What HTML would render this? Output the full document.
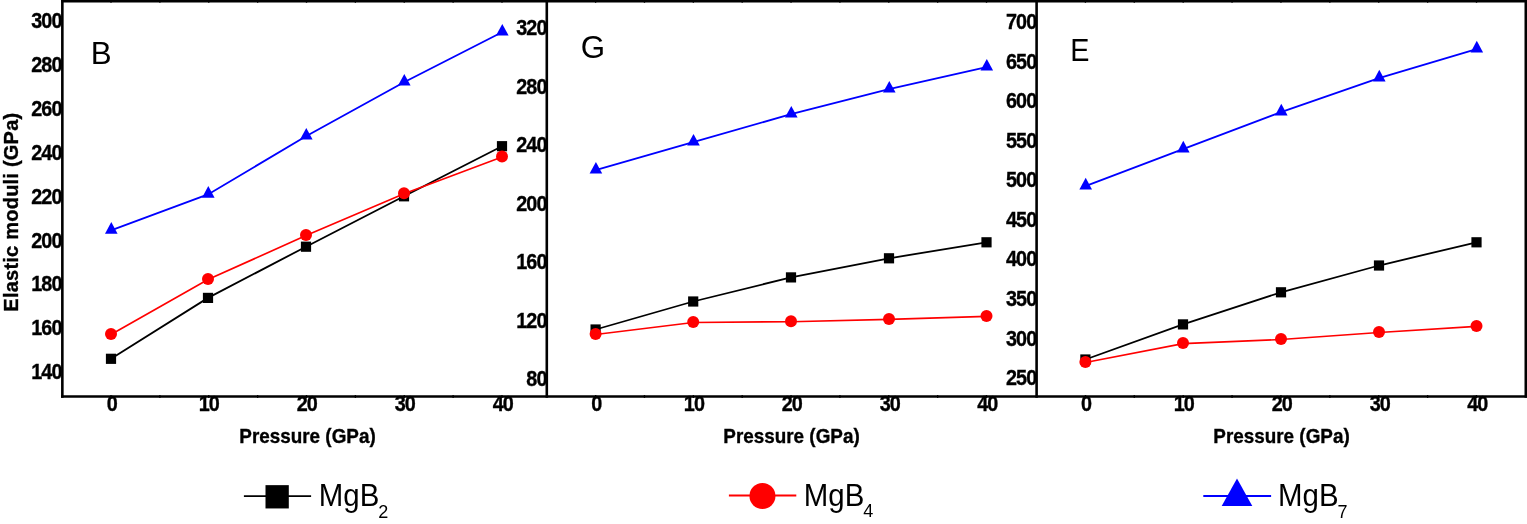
<!DOCTYPE html>
<html><head><meta charset="utf-8"><title>Elastic moduli vs pressure</title>
<style>html,body{margin:0;padding:0;background:#fff;}svg{display:block;}</style>
</head><body>
<svg width="1527" height="524" viewBox="0 0 1527 524" font-family='"Liberation Sans", Arial, Helvetica, sans-serif'>
<rect width="1527" height="524" fill="#fff"/>
<g stroke="#000" fill="none" stroke-linecap="square">
<line x1="62.35" y1="1.2" x2="1525.8" y2="1.2" stroke-width="2.4"/>
<line x1="62.35" y1="396.5" x2="1525.8" y2="396.5" stroke-width="2.7"/>
<line x1="62.35" y1="1.2" x2="62.35" y2="396.5" stroke-width="2.6"/>
<line x1="546.8" y1="1.2" x2="546.8" y2="396.5" stroke-width="2.6"/>
<line x1="1036.6" y1="1.2" x2="1036.6" y2="396.5" stroke-width="2.6"/>
<line x1="1525.8" y1="1.2" x2="1525.8" y2="396.5" stroke-width="2.6"/>
</g>
<path d="M111.00,394.90V398.10M111.00,1.20V2.70M159.88,394.90V398.10M159.88,1.20V2.70M208.75,394.90V398.10M208.75,1.20V2.70M257.62,394.90V398.10M257.62,1.20V2.70M306.50,394.90V398.10M306.50,1.20V2.70M355.38,394.90V398.10M355.38,1.20V2.70M404.25,394.90V398.10M404.25,1.20V2.70M453.12,394.90V398.10M453.12,1.20V2.70M502.00,394.90V398.10M502.00,1.20V2.70" stroke="#000" stroke-width="1.3" fill="none"/>
<polyline points="111,358.8 208,297.9 306,246.7 404,196.3 502,146.2" fill="none" stroke="#000" stroke-width="1.8"/>
<rect x="105.90" y="353.70" width="10.2" height="10.2" fill="#000"/>
<rect x="202.90" y="292.80" width="10.2" height="10.2" fill="#000"/>
<rect x="300.90" y="241.60" width="10.2" height="10.2" fill="#000"/>
<rect x="398.90" y="191.20" width="10.2" height="10.2" fill="#000"/>
<rect x="496.90" y="141.10" width="10.2" height="10.2" fill="#000"/>
<polyline points="111,334.5 208,279.5 306,235.6 404,193.8 502,157" fill="none" stroke="#f00" stroke-width="1.65"/>
<circle cx="111" cy="334.00" r="6.0" fill="#f00"/>
<circle cx="208" cy="279.00" r="6.0" fill="#f00"/>
<circle cx="306" cy="235.10" r="6.0" fill="#f00"/>
<circle cx="404" cy="193.30" r="6.0" fill="#f00"/>
<circle cx="502" cy="156.50" r="6.0" fill="#f00"/>
<polyline points="111,230.4 208,194.4 306,136.3 404,82.3 502,32.3" fill="none" stroke="#00f" stroke-width="1.8"/>
<polygon points="111.30,222.10 117.60,233.70 105.00,233.70" fill="#00f"/>
<polygon points="208.30,186.10 214.60,197.70 202.00,197.70" fill="#00f"/>
<polygon points="306.30,128.00 312.60,139.60 300.00,139.60" fill="#00f"/>
<polygon points="404.30,74.00 410.60,85.60 398.00,85.60" fill="#00f"/>
<polygon points="502.30,24.00 508.60,35.60 496.00,35.60" fill="#00f"/>
<g font-size="21.3" font-weight="bold" fill="#000" stroke="#000" stroke-width="0.35">
<text transform="translate(61.70,28.00) scale(0.93,1)" letter-spacing="-0.9" text-anchor="end">300</text>
<text transform="translate(61.70,72.00) scale(0.93,1)" letter-spacing="-0.9" text-anchor="end">280</text>
<text transform="translate(61.70,116.00) scale(0.93,1)" letter-spacing="-0.9" text-anchor="end">260</text>
<text transform="translate(61.70,160.00) scale(0.93,1)" letter-spacing="-0.9" text-anchor="end">240</text>
<text transform="translate(61.70,204.00) scale(0.93,1)" letter-spacing="-0.9" text-anchor="end">220</text>
<text transform="translate(61.70,248.00) scale(0.93,1)" letter-spacing="-0.9" text-anchor="end">200</text>
<text transform="translate(61.70,291.00) scale(0.93,1)" letter-spacing="-0.9" text-anchor="end">180</text>
<text transform="translate(61.70,335.00) scale(0.93,1)" letter-spacing="-0.9" text-anchor="end">160</text>
<text transform="translate(61.70,379.00) scale(0.93,1)" letter-spacing="-0.9" text-anchor="end">140</text>
<text transform="translate(111.80,411.0) scale(0.93,1)" letter-spacing="-0.9" text-anchor="middle">0</text>
<text transform="translate(208.80,411.0) scale(0.93,1)" letter-spacing="-0.9" text-anchor="middle">10</text>
<text transform="translate(306.80,411.0) scale(0.93,1)" letter-spacing="-0.9" text-anchor="middle">20</text>
<text transform="translate(404.80,411.0) scale(0.93,1)" letter-spacing="-0.9" text-anchor="middle">30</text>
<text transform="translate(502.80,411.0) scale(0.93,1)" letter-spacing="-0.9" text-anchor="middle">40</text>
<text transform="translate(307.5,443.1) scale(0.944,1)" text-anchor="middle" font-size="20">Pressure (GPa)</text>
</g>
<text transform="translate(90.80,63.90) scale(1,1)" font-size="31.3" fill="#000">B</text>
<path d="M595.60,394.90V398.10M595.60,1.20V2.70M644.46,394.90V398.10M644.46,1.20V2.70M693.33,394.90V398.10M693.33,1.20V2.70M742.19,394.90V398.10M742.19,1.20V2.70M791.05,394.90V398.10M791.05,1.20V2.70M839.91,394.90V398.10M839.91,1.20V2.70M888.77,394.90V398.10M888.77,1.20V2.70M937.64,394.90V398.10M937.64,1.20V2.70M986.50,394.90V398.10M986.50,1.20V2.70" stroke="#000" stroke-width="1.3" fill="none"/>
<polyline points="595.6,329.5 693.2,301.5 791,277.4 889,258.3 986.5,242.3" fill="none" stroke="#000" stroke-width="1.8"/>
<rect x="590.50" y="324.40" width="10.2" height="10.2" fill="#000"/>
<rect x="688.10" y="296.40" width="10.2" height="10.2" fill="#000"/>
<rect x="785.90" y="272.30" width="10.2" height="10.2" fill="#000"/>
<rect x="883.90" y="253.20" width="10.2" height="10.2" fill="#000"/>
<rect x="981.40" y="237.20" width="10.2" height="10.2" fill="#000"/>
<polyline points="595.6,334.5 693.2,322.5 791,321.7 889,319.4 986.5,316.4" fill="none" stroke="#f00" stroke-width="1.65"/>
<circle cx="595.6" cy="334.00" r="6.0" fill="#f00"/>
<circle cx="693.2" cy="322.00" r="6.0" fill="#f00"/>
<circle cx="791" cy="321.20" r="6.0" fill="#f00"/>
<circle cx="889" cy="318.90" r="6.0" fill="#f00"/>
<circle cx="986.5" cy="315.90" r="6.0" fill="#f00"/>
<polyline points="595.6,170.2 693.2,142.2 791,114.2 889,89.2 986.5,67.2" fill="none" stroke="#00f" stroke-width="1.8"/>
<polygon points="595.90,161.90 602.20,173.50 589.60,173.50" fill="#00f"/>
<polygon points="693.50,133.90 699.80,145.50 687.20,145.50" fill="#00f"/>
<polygon points="791.30,105.90 797.60,117.50 785.00,117.50" fill="#00f"/>
<polygon points="889.30,80.90 895.60,92.50 883.00,92.50" fill="#00f"/>
<polygon points="986.80,58.90 993.10,70.50 980.50,70.50" fill="#00f"/>
<g font-size="21.3" font-weight="bold" fill="#000" stroke="#000" stroke-width="0.35">
<text transform="translate(546.70,35.00) scale(0.93,1)" letter-spacing="-0.9" text-anchor="end">320</text>
<text transform="translate(546.70,94.00) scale(0.93,1)" letter-spacing="-0.9" text-anchor="end">280</text>
<text transform="translate(546.70,152.00) scale(0.93,1)" letter-spacing="-0.9" text-anchor="end">240</text>
<text transform="translate(546.70,211.00) scale(0.93,1)" letter-spacing="-0.9" text-anchor="end">200</text>
<text transform="translate(546.70,269.00) scale(0.93,1)" letter-spacing="-0.9" text-anchor="end">160</text>
<text transform="translate(546.70,328.00) scale(0.93,1)" letter-spacing="-0.9" text-anchor="end">120</text>
<text transform="translate(546.70,386.00) scale(0.93,1)" letter-spacing="-0.9" text-anchor="end">80</text>
<text transform="translate(596.40,411.0) scale(0.93,1)" letter-spacing="-0.9" text-anchor="middle">0</text>
<text transform="translate(694.00,411.0) scale(0.93,1)" letter-spacing="-0.9" text-anchor="middle">10</text>
<text transform="translate(791.80,411.0) scale(0.93,1)" letter-spacing="-0.9" text-anchor="middle">20</text>
<text transform="translate(889.80,411.0) scale(0.93,1)" letter-spacing="-0.9" text-anchor="middle">30</text>
<text transform="translate(987.30,411.0) scale(0.93,1)" letter-spacing="-0.9" text-anchor="middle">40</text>
<text transform="translate(791.5,443.1) scale(0.944,1)" text-anchor="middle" font-size="20">Pressure (GPa)</text>
</g>
<text transform="translate(580.80,58.20) scale(1,1)" font-size="31.3" fill="#000">G</text>
<path d="M1085.40,394.90V398.10M1085.40,1.20V2.70M1134.29,394.90V398.10M1134.29,1.20V2.70M1183.18,394.90V398.10M1183.18,1.20V2.70M1232.06,394.90V398.10M1232.06,1.20V2.70M1280.95,394.90V398.10M1280.95,1.20V2.70M1329.84,394.90V398.10M1329.84,1.20V2.70M1378.72,394.90V398.10M1378.72,1.20V2.70M1427.61,394.90V398.10M1427.61,1.20V2.70M1476.50,394.90V398.10M1476.50,1.20V2.70" stroke="#000" stroke-width="1.3" fill="none"/>
<polyline points="1085.4,359.5 1183,324.4 1281,292.3 1379,265.5 1476.5,242.3" fill="none" stroke="#000" stroke-width="1.8"/>
<rect x="1080.30" y="354.40" width="10.2" height="10.2" fill="#000"/>
<rect x="1177.90" y="319.30" width="10.2" height="10.2" fill="#000"/>
<rect x="1275.90" y="287.20" width="10.2" height="10.2" fill="#000"/>
<rect x="1373.90" y="260.40" width="10.2" height="10.2" fill="#000"/>
<rect x="1471.40" y="237.20" width="10.2" height="10.2" fill="#000"/>
<polyline points="1085.4,362.5 1183,343.6 1281,339.5 1379,332.5 1476.5,326.4" fill="none" stroke="#f00" stroke-width="1.65"/>
<circle cx="1085.4" cy="362.00" r="6.0" fill="#f00"/>
<circle cx="1183" cy="343.10" r="6.0" fill="#f00"/>
<circle cx="1281" cy="339.00" r="6.0" fill="#f00"/>
<circle cx="1379" cy="332.00" r="6.0" fill="#f00"/>
<circle cx="1476.5" cy="325.90" r="6.0" fill="#f00"/>
<polyline points="1085.4,186.1 1183,149.1 1281,112.1 1379,78.1 1476.5,49.1" fill="none" stroke="#00f" stroke-width="1.8"/>
<polygon points="1085.70,177.80 1092.00,189.40 1079.40,189.40" fill="#00f"/>
<polygon points="1183.30,140.80 1189.60,152.40 1177.00,152.40" fill="#00f"/>
<polygon points="1281.30,103.80 1287.60,115.40 1275.00,115.40" fill="#00f"/>
<polygon points="1379.30,69.80 1385.60,81.40 1373.00,81.40" fill="#00f"/>
<polygon points="1476.80,40.80 1483.10,52.40 1470.50,52.40" fill="#00f"/>
<g font-size="21.3" font-weight="bold" fill="#000" stroke="#000" stroke-width="0.35">
<text transform="translate(1036.40,29.00) scale(0.93,1)" letter-spacing="-0.9" text-anchor="end">700</text>
<text transform="translate(1036.40,69.00) scale(0.93,1)" letter-spacing="-0.9" text-anchor="end">650</text>
<text transform="translate(1036.40,108.00) scale(0.93,1)" letter-spacing="-0.9" text-anchor="end">600</text>
<text transform="translate(1036.40,148.00) scale(0.93,1)" letter-spacing="-0.9" text-anchor="end">550</text>
<text transform="translate(1036.40,187.00) scale(0.93,1)" letter-spacing="-0.9" text-anchor="end">500</text>
<text transform="translate(1036.40,227.00) scale(0.93,1)" letter-spacing="-0.9" text-anchor="end">450</text>
<text transform="translate(1036.40,266.00) scale(0.93,1)" letter-spacing="-0.9" text-anchor="end">400</text>
<text transform="translate(1036.40,306.00) scale(0.93,1)" letter-spacing="-0.9" text-anchor="end">350</text>
<text transform="translate(1036.40,346.00) scale(0.93,1)" letter-spacing="-0.9" text-anchor="end">300</text>
<text transform="translate(1036.40,385.00) scale(0.93,1)" letter-spacing="-0.9" text-anchor="end">250</text>
<text transform="translate(1086.20,411.0) scale(0.93,1)" letter-spacing="-0.9" text-anchor="middle">0</text>
<text transform="translate(1183.80,411.0) scale(0.93,1)" letter-spacing="-0.9" text-anchor="middle">10</text>
<text transform="translate(1281.80,411.0) scale(0.93,1)" letter-spacing="-0.9" text-anchor="middle">20</text>
<text transform="translate(1379.80,411.0) scale(0.93,1)" letter-spacing="-0.9" text-anchor="middle">30</text>
<text transform="translate(1477.30,411.0) scale(0.93,1)" letter-spacing="-0.9" text-anchor="middle">40</text>
<text transform="translate(1281.5,443.1) scale(0.944,1)" text-anchor="middle" font-size="20">Pressure (GPa)</text>
</g>
<text transform="translate(1070.15,60.60) scale(0.92,1)" font-size="31.3" fill="#000">E</text>
<text transform="translate(18.2,212.1) rotate(-90)" letter-spacing="0.23" text-anchor="middle" font-size="20" font-weight="bold" stroke="#000" stroke-width="0.35">Elastic moduli (GPa)</text>
<line x1="243.9" y1="496.05" x2="311.1" y2="496.05" stroke="#000" stroke-width="1.8"/>
<rect x="265.50" y="485.15" width="23.3" height="23.3" fill="#000"/>
<text transform="translate(318.8,506) scale(0.95,1)" font-size="31" fill="#000">MgB<tspan font-size="19" dx="-1" dy="11.8">2</tspan></text>
<line x1="728.9" y1="495.5" x2="796.3" y2="495.5" stroke="#f00" stroke-width="1.8"/>
<circle cx="762.45" cy="496.0" r="13.0" fill="#f00"/>
<text transform="translate(803.8,506) scale(0.95,1)" font-size="31" fill="#000">MgB<tspan font-size="19" dx="-1" dy="10.9">4</tspan></text>
<line x1="1203.3" y1="496.0" x2="1271.1" y2="496.0" stroke="#00f" stroke-width="1.8"/>
<polygon points="1237.0,478.60 1252.30,505.90 1221.70,505.90" fill="#00f"/>
<text transform="translate(1278,506) scale(0.95,1)" font-size="31" fill="#000">MgB<tspan font-size="19" dx="-1" dy="12">7</tspan></text>
</svg>
</body></html>
